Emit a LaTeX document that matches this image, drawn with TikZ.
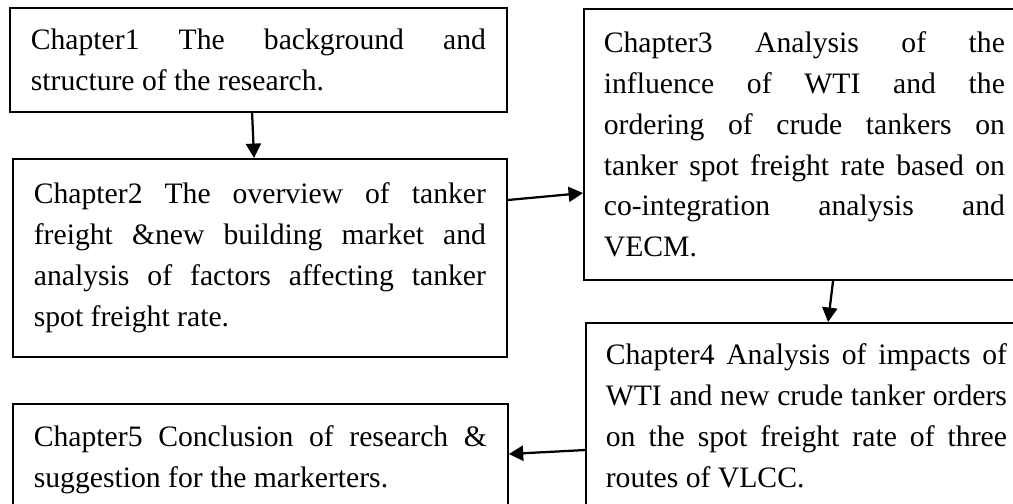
\documentclass[tikz,border=0pt]{standalone}
\usepackage{fontspec}
\setmainfont{Liberation Serif}
\usetikzlibrary{arrows.meta}
% no hyphenation, loose justified lines allowed
\hyphenpenalty=10000
\exhyphenpenalty=10000
\tolerance=10000

\begin{document}
\begin{tikzpicture}[x=0.025cm,y=-0.025cm,
        chapter/.style={draw=black,line width=1.2pt,anchor=north west,
            inner xsep=0.525cm,inner ysep=0pt,align=justify,
            font=\fontsize{21.1}{29.1}\selectfont},
        link/.style={line width=1.6pt},
        >={Triangle[length=0.36cm,width=0.375cm]}]
        \clip (0,0) rectangle (1013,504);
        \fill[white] (0,0) rectangle (1013,504);

        % left column
        \node[chapter,text width=11.375cm,minimum height=2.6cm] (ch1) at (9,7)
            {Chapter1 The background and\linebreak structure of the research.};
        \node[chapter,text width=11.3cm,minimum height=4.95cm] (ch2) at (12,158)
            {Chapter2 The overview of tanker\linebreak freight \&new building market and\linebreak analysis of factors affecting tanker\linebreak spot freight rate.};
        \node[chapter,text width=11.325cm,minimum height=2.8cm] (ch5) at (12,403)
            {Chapter5 Conclusion of research \&\linebreak suggestion for the markerters.};

        % right column
        \node[chapter,inner xsep=0.5cm,text width=10.025cm,minimum height=6.775cm] (ch3) at (583,8)
            {Chapter3 Analysis of the\linebreak influence of WTI and the\linebreak ordering of crude tankers on\linebreak tanker spot freight rate based on\linebreak co-integration analysis and\linebreak VECM.};
        \node[chapter,inner xsep=0.5cm,text width=10.025cm,minimum height=4.65cm] (ch4) at (585,322)
            {Chapter4 Analysis of impacts of\linebreak WTI and new crude tanker orders\linebreak on the spot freight rate of three\linebreak routes of VLCC.};

        \path [->,link] ([xshift=6.075cm]ch1.south west) edge ([xshift=6.05cm]ch2.north west);
        \path [->,link] ([yshift=-1.05cm]ch2.north east) edge ([yshift=-4.625cm]ch3.north west);
        \path [->,link] ([xshift=6.25cm]ch3.south west) edge ([xshift=6.075cm]ch4.north west);
        \path [->,link] ([yshift=-3.2cm]ch4.north west) edge ([yshift=-1.275cm]ch5.north east);
\end{tikzpicture}
\end{document}
